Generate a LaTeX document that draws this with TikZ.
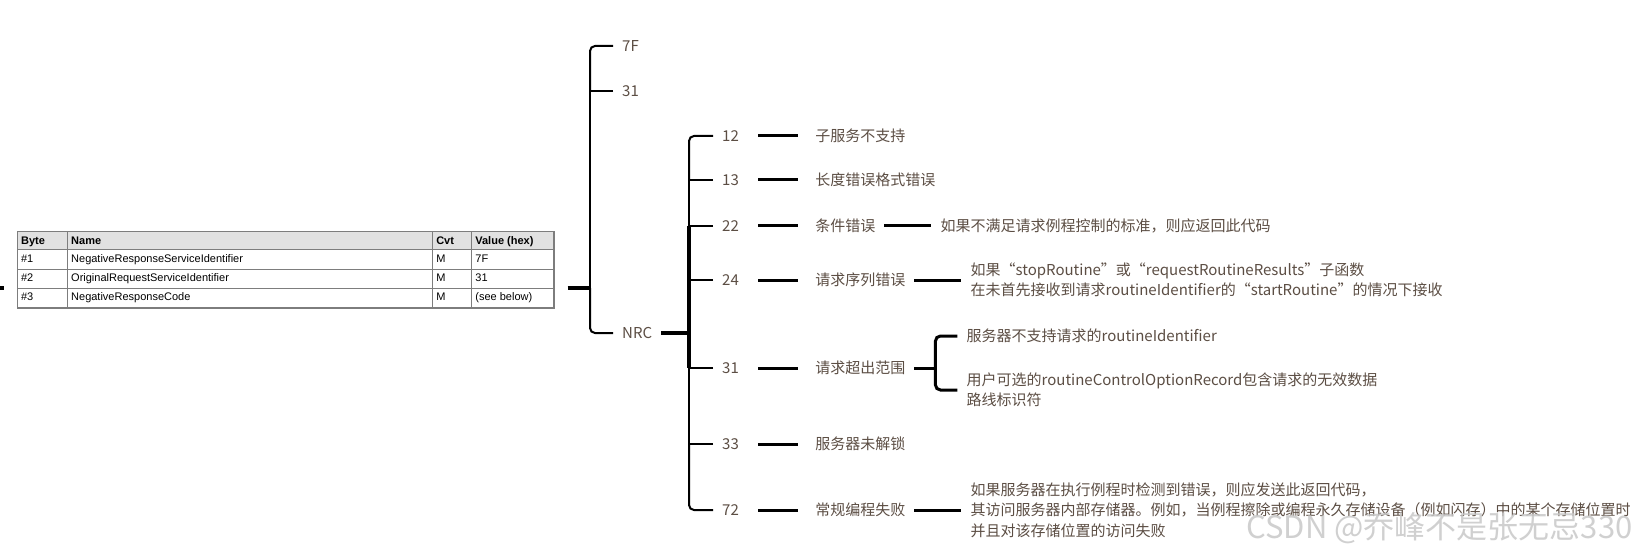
\documentclass[tikz,border=0pt]{standalone}
\usepackage{fontspec}
\usepackage{colortbl}
\setmainfont{Noto Sans CJK SC}
\newfontfamily\tablefont{Liberation Sans}
\usetikzlibrary{positioning}

\definecolor{mapText}{RGB}{92,78,68}
\definecolor{gridLine}{RGB}{125,125,125}
\definecolor{headFill}{RGB}{225,225,225}
\definecolor{markGray}{RGB}{200,200,200}

\tikzset{
  topic/.style={anchor=west, inner xsep=9pt, inner ysep=2pt, text=mapText,
    font=\fontsize{15}{20.5}\selectfont},
  detail/.style={topic, align=left},
  twig/.style={line width=2pt},
  limb/.style={line width=2.6pt},
  trunk/.style={line width=3.3pt},
  stem/.style={line width=3pt, shorten <=10pt, shorten >=8pt},
  tie/.style={line width=3pt},
}

\begin{document}
\begin{tikzpicture}[x=1pt, y=-1pt]
  \path[use as bounding box, fill=white] (0,0) rectangle (1638,548);

  % message table
  \node[anchor=north west, inner sep=0pt, outer xsep=13pt] (tbl) at (4,231)
    {\tablefont\fontsize{11}{13}\selectfont
     \arrayrulecolor{gridLine}\setlength{\arrayrulewidth}{1.1pt}%
     \setlength{\tabcolsep}{3pt}\renewcommand{\arraystretch}{1.3}%
     \begin{tabular}{|p{43pt}|p{358pt}|p{32pt}|p{75pt}|}
       \hline
       \rowcolor{headFill}\rule[-4.5pt]{0pt}{12.5pt}\textbf{Byte} & \textbf{Name} & \textbf{Cvt} & \textbf{Value (hex)} \\ \hline
       \rule[-6.5pt]{0pt}{14pt}\#1 & NegativeResponseServiceIdentifier & M & 7F \\ \hline
       \rule[-6.5pt]{0pt}{14pt}\#2 & OriginalRequestServiceIdentifier & M & 31 \\ \hline
       \rule[-6.5pt]{0pt}{14pt}\#3 & NegativeResponseCode & M & (see below) \\ \hline
     \end{tabular}};

  \coordinate (root) at (0,288);
  \coordinate (hub) at (590,288);
  \node[topic] (r7F) at (613,46) {7F};
  \node[topic] (r31) at (613,91) {31};
  \node[topic] (nrc) at (613,333) {NRC};
  \coordinate (hub2) at (689,333);

  % NRC codes
  \node[topic] (c12) at (713,136) {12};
  \node[topic] (c13) at (713,180) {13};
  \node[topic] (c22) at (713,226) {22};
  \node[topic] (c24) at (713,280) {24};
  \node[topic] (c31) at (713,368) {31};
  \node[topic] (c33) at (713,444) {33};
  \node[topic] (c72) at (713,510) {72};

  \node[topic, right=58pt of c12] (d12) {子服务不支持};
  \node[topic, right=58pt of c13] (d13) {长度错误格式错误};
  \node[topic, right=58pt of c22] (d22) {条件错误};
  \node[topic, right=58pt of c24] (d24) {请求序列错误};
  \node[topic, right=58pt of c31] (d31) {请求超出范围};
  \node[topic, right=58pt of c33] (d33) {服务器未解锁};
  \node[topic, right=58pt of c72] (d72) {常规编程失败};

  \node[detail, right=47pt of d22] (e22) {如果不满足请求例程控制的标准，则应返回此代码};
  \node[detail, right=47pt of d24] (e24)
    {如果“stopRoutine”或“requestRoutineResults”子函数\\
     在未首先接收到请求routineIdentifier的“startRoutine”的情况下接收};
  \coordinate (fork) at ([xshift=21pt]d31.east);
  \node[detail] (e31a) at ([xshift=22pt, yshift=32pt]fork) {服务器不支持请求的routineIdentifier};
  \node[detail] (e31b) at ([xshift=22pt, yshift=-22pt]fork)
    {用户可选的routineControlOptionRecord包含请求的无效数据\\路线标识符};
  \node[detail, right=47pt of d72] (e72)
    {如果服务器在执行例程时检测到错误，则应发送此返回代码，\\
     其访问服务器内部存储器。例如，当例程擦除或编程永久存储设备（例如闪存）中的某个存储位置时\\
     并且对该存储位置的访问失败};

  % main branches
  \draw[trunk] (root) -- (tbl.west |- root);
  \draw[trunk] (tbl.east |- hub) -- (hub);
  \draw[twig, rounded corners=5pt] (r7F.west) -| (hub |- r31.west);
  \draw[twig] (r31.west) -- (hub |- r31.west);
  \draw[limb] (hub |- r31.west) -- (hub);
  \draw[twig, rounded corners=5pt] (hub) |- (nrc.west);

  % NRC branches
  \draw[trunk] (nrc.east) -- (hub2);
  \draw[twig, rounded corners=5pt] (c12.west) -| (hub2 |- c13.west);
  \draw[twig] (c13.west) -- (hub2 |- c13.west);
  \draw[limb] (hub2 |- c13.west) -- (hub2 |- c22.west);
  \draw[twig] (c22.west) -- (hub2 |- c22.west);
  \draw[trunk] (hub2 |- c22.west) -- (hub2 |- c24.west);
  \draw[twig] (c24.west) -- (hub2 |- c24.west);
  \draw[trunk] (hub2 |- c24.west) -- (hub2 |- c31.west);
  \draw[twig] (c31.west) -- (hub2 |- c31.west);
  \draw[limb] (hub2 |- c31.west) -- (hub2 |- c33.west);
  \draw[twig] (c33.west) -- (hub2 |- c33.west);
  \draw[twig, rounded corners=5pt] (hub2 |- c33.west) |- (c72.west);

  \draw[stem] (c12.east) -- (d12.west);
  \draw[stem] (c13.east) -- (d13.west);
  \draw[stem] (c22.east) -- (d22.west);
  \draw[stem] (c24.east) -- (d24.west);
  \draw[stem] (c31.east) -- (d31.west);
  \draw[stem] (c33.east) -- (d33.west);
  \draw[stem] (c72.east) -- (d72.west);

  \draw[tie] (d22.east) -- (e22.west);
  \draw[tie] (d24.east) -- (e24.west);
  \draw[tie] (d31.east) -- (fork);
  \draw[tie, rounded corners=5pt] (e31a.west) -| (fork) |- (e31b.west);
  \draw[tie] (d72.east) -- (e72.west);

  \node[anchor=east, text=markGray, text opacity=0.85, font=\fontsize{31}{31}\selectfont]
    (mark) at (1636,528) {CSDN @乔峰不是张无忌330};
\end{tikzpicture}
\end{document}
